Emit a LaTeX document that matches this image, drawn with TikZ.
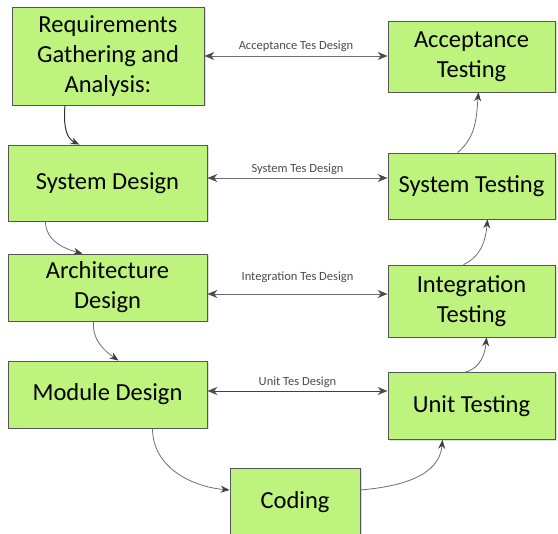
\documentclass[tikz,border=0pt]{standalone}
\usepackage{fontspec}
\setmainfont{Carlito}
\usetikzlibrary{shadows,arrows.meta}
\definecolor{boxgreen}{RGB}{190,244,126}
\definecolor{edgegray}{RGB}{85,85,85}
\definecolor{linegray}{RGB}{110,110,110}
\tikzset{
  phase/.style={draw=edgegray, line width=0.8pt, fill=boxgreen, align=center,
    font=\fontsize{24.5}{30}\selectfont, inner sep=0pt,
    drop shadow={shadow xshift=1.5pt, shadow yshift=-1.5pt, fill=gray!55}},
  flow/.style={draw=linegray, line width=0.8pt, -{Stealth[length=9pt,width=7pt,color=black!75]}},
  link/.style={draw=linegray, line width=0.9pt,
    {Stealth[length=10pt,width=8pt,color=black!70]}-{Stealth[length=10pt,width=8pt,color=black!70]}},
  lbl/.style={font=\fontsize{12.5}{14}\selectfont, text=black!70, inner sep=1pt}
}
\begin{document}
\begin{tikzpicture}[x=1pt,y=-1pt]
\useasboundingbox (0,0) rectangle (558,534);
% left column
\node[phase, minimum width=192pt, minimum height=98pt] (req) at (108,56)
  {Requirements\\Gathering and\\Analysis:};
\node[phase, minimum width=199pt, minimum height=76pt] (sysd) at (107.5,183) {System Design};
\node[phase, minimum width=199pt, minimum height=67pt] (arch) at (107.5,287.5) {Architecture\\Design};
\node[phase, minimum width=199pt, minimum height=67pt] (mod) at (107.5,394.5) {Module Design};
% bottom
\node[phase, minimum width=130pt, minimum height=68pt] (cod) at (295,502) {Coding};
% right column
\node[phase, minimum width=167pt, minimum height=71pt] (acc) at (471.5,56.5) {Acceptance\\Testing};
\node[phase, minimum width=167pt, minimum height=66pt] (syst) at (471.5,186) {System Testing};
\node[phase, minimum width=167pt, minimum height=72pt] (intt) at (471.5,301) {Integration\\Testing};
\node[phase, minimum width=167pt, minimum height=67pt] (unit) at (471.5,406) {Unit Testing};
% horizontal links
\draw[link] (req.east |- 0,56) -- node[lbl, above=3pt] {Acceptance Tes Design} (acc.west |- 0,56);
\draw[link] (sysd.east |- 0,178) -- node[lbl, above=2pt] {System Tes Design} (syst.west |- 0,178);
\draw[link] (arch.east |- 0,294) -- node[lbl, above=10pt] {Integration Tes Design} (intt.west |- 0,294);
\draw[link, draw=black!75] (mod.east |- 0,391) -- node[lbl, above=2pt] {Unit Tes Design} (unit.west |- 0,391);
% down the left
\draw[flow, draw=black!80, line width=1pt] ([xshift=-43pt]req.south) to[out=-95,in=155] ([xshift=-28pt]sysd.north);
\draw[flow] ([xshift=-62pt]sysd.south) to[out=-90,in=165] ([xshift=-25pt]arch.north);
\draw[flow] ([xshift=-14pt]arch.south) to[out=-95,in=145] ([xshift=11pt]mod.north);
\draw[flow] ([xshift=45pt]mod.south) to[out=-90,in=175] ([yshift=12pt]cod.west);
% up the right
\draw[flow] ([yshift=12pt]cod.east) to[out=5,in=-95] ([xshift=-29pt]unit.south);
\draw[flow] ([xshift=-6pt]unit.north) to[out=15,in=-95] ([xshift=15pt]intt.south);
\draw[flow] ([xshift=-8pt]intt.north) to[out=25,in=-95] ([xshift=16pt]syst.south);
\draw[flow] ([xshift=-14pt]syst.north) to[out=40,in=-95] ([xshift=7pt]acc.south);
\end{tikzpicture}
\end{document}
